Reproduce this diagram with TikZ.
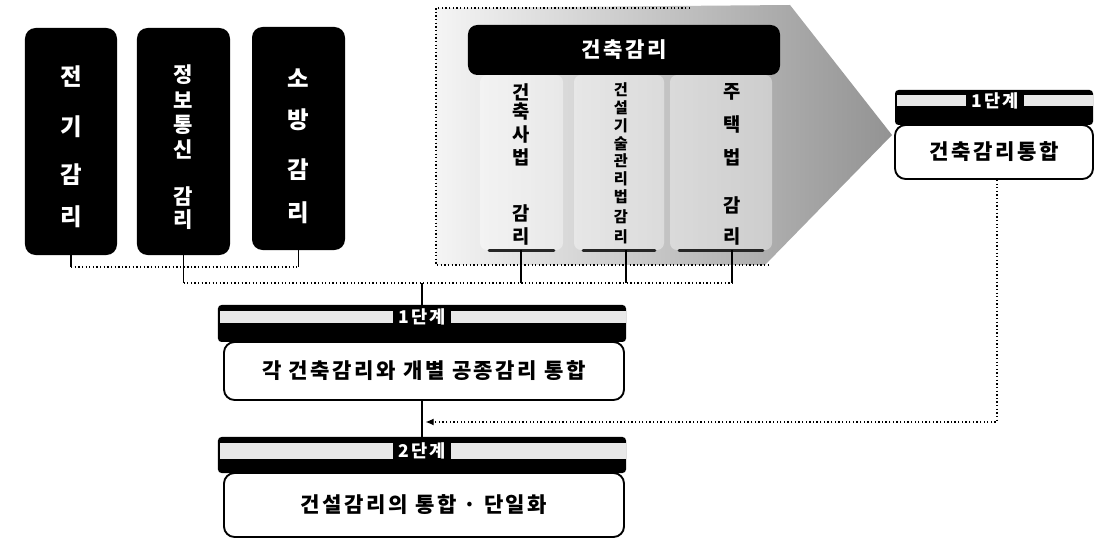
\documentclass[tikz,border=0pt]{standalone}
\usepackage{fontspec}
\newfontfamily\kr{Noto Sans CJK KR}
\newfontfamily\krs{Noto Sans CJK KR}[LetterSpace=12]
\usetikzlibrary{arrows.meta}
\tikzset{
  lbox/.style={fill=black, rounded corners=9pt, inner sep=0pt},
  lchar/.style={text=white, font=\kr\bfseries\fontsize{20}{20}\selectfont, inner sep=0pt},
  lchars/.style={text=white, font=\kr\bfseries\fontsize{18}{18}\selectfont, inner sep=0pt},
  cchar/.style={text=black, font=\kr\bfseries\fontsize{16}{16}\selectfont, inner sep=0pt},
  cchars/.style={text=black, font=\kr\bfseries\fontsize{13}{13}\selectfont, inner sep=0pt},
  colbox/.style={fill=white, fill opacity=0.4, rounded corners=6pt, inner sep=0pt},
  coledge/.style={gray!30!black, line width=2.4pt, line cap=round},
  barbg/.style={fill=black, rounded corners=3pt, inner sep=0pt},
  stripe/.style={fill=gray!18},
  lab/.style={fill=black, text=white, inner xsep=5pt, inner ysep=0pt, font=\krs\bfseries\fontsize{15}{15}\selectfont},
  body/.style={draw=black, line width=1.6pt, fill=white, rounded corners=9pt, inner sep=0pt,
               font=\krs\bfseries\fontsize{18}{20}\selectfont},
  stem/.style={line width=1pt},
  dotline/.style={line width=1.1pt, dotted},
}
\begin{document}
\begin{tikzpicture}[x=0.03cm,y=-0.03cm]
\fill[white] (0,0) rectangle (1106,539);
\useasboundingbox (0,0) rectangle (1106,539);

% left black boxes
\node[lbox, minimum width=2.76cm, minimum height=6.81cm] (b1) at (71,141.5) {};
\node[lbox, minimum width=2.79cm, minimum height=6.81cm] (b2) at (183.5,141.5) {};
\node[lbox, minimum width=2.79cm, minimum height=6.69cm] (b3) at (298.5,138.5) {};
\foreach \c/\y [count=\i] in {전/77,기/127,감/175,리/217}
  \node[lchar] (b1t\i) at (71,\y) {\c};
\foreach \c/\y [count=\i] in {정/75,보/100,통/125,신/149,감/197,리/220}
  \node[lchars] (b2t\i) at (183.5,\y) {\c};
\foreach \c/\y [count=\i] in {소/78,방/120,감/170,리/213}
  \node[lchar] (b3t\i) at (298.5,\y) {\c};

% big shaded arrow
\shade[left color=gray!8, right color=gray!85] (436,8) -- (790,5) -- (892,135) -- (765,265) -- (436,265) -- cycle;
\draw[dotline] (690,8) -- (436,8) -- (436,265) -- (770,265);

% columns
\node[colbox, minimum width=2.49cm, minimum height=5.25cm] (c1) at (521.5,162.5) {};
\node[colbox, minimum width=2.70cm, minimum height=5.25cm] (c2) at (619,162.5) {};
\node[colbox, minimum width=3.06cm, minimum height=5.25cm] (c3) at (721,162.5) {};
\draw[coledge] ([xshift=8pt]c1.south west) -- ([xshift=-8pt]c1.south east);
\draw[coledge] ([xshift=8pt]c2.south west) -- ([xshift=-8pt]c2.south east);
\draw[coledge] ([xshift=8pt]c3.south west) -- ([xshift=-8pt]c3.south east);
\foreach \c/\y [count=\i] in {건/92,축/112,사/134,법/157,감/213,리/236}
  \node[cchar] (c1t\i) at (521,\y) {\c};
\foreach \c/\y [count=\i] in {건/90,설/108,기/126,술/144,관/161,리/179,법/197,감/217,리/237}
  \node[cchars] (c2t\i) at (621,\y) {\c};
\foreach \c/\y [count=\i] in {주/92,택/124,법/157,감/205,리/236}
  \node[cchar] (c3t\i) at (732,\y) {\c};

% header 건축감리
\node[barbg, rounded corners=8pt, minimum width=9.36cm, minimum height=1.5cm,
      text=white, font=\krs\bfseries\fontsize{18}{18}\selectfont] (hd) at (624,50) {건축감리};

% right: 1단계 / 건축감리통합
\node[body, minimum width=5.94cm, minimum height=1.62cm] (r1) at (994,152) {건축감리통합};
\node[barbg, minimum width=5.94cm, minimum height=1.05cm] (rh) at (994,107.5) {};
\fill[stripe] (897,95) rectangle (1093,106);
\node[lab] (rl) at (995,100.5) {1단계};

% stage 1
\node[body, minimum width=12cm, minimum height=1.74cm] (s1) at (424,371) {각 건축감리와 개별 공종감리 통합};
\node[barbg, minimum width=12.24cm, minimum height=1.11cm] (h1) at (422,323.5) {};
\fill[stripe] (220,311) rectangle (626,323);
\node[lab] (l1) at (422,317) {1단계};

% stage 2
\node[body, minimum width=12cm, minimum height=1.92cm] (s2) at (424,505) {건설감리의 통합 · 단일화};
\node[barbg, minimum width=12.24cm, minimum height=1.08cm] (h2) at (422,455) {};
\fill[stripe] (220,443) rectangle (626,459);
\node[lab] (l2) at (422,451) {2단계};

% connectors
\coordinate (ja) at (0,267);
\coordinate (jb) at (0,283);
\coordinate (t1) at (521,250);
\coordinate (t2) at (626,250);
\coordinate (t3) at (732,250);
\draw[stem] (b1.south) -- (b1.south |- ja);
\draw[stem] (b3.south) -- (b3.south |- ja);
\draw[dotline] (b1.south |- ja) -- (b3.south |- ja);
\draw[stem] (b2.south) -- (b2.south |- jb);
\draw[stem] (t1) -- (t1 |- jb);
\draw[stem] (t2) -- (t2 |- jb);
\draw[stem] (t3) -- (t3 |- jb);
\draw[dotline] (b2.south |- jb) -- (t3 |- jb);
\draw[stem] (h1.north |- jb) -- (h1.north);
\draw[stem] (h1.north |- s1.south) -- (h1.north |- h2.north);
\coordinate (ra) at (997,422);
\draw[dotline, -{Latex[length=7pt,width=6pt]}] (r1.south -| ra) -- (ra) -- ([xshift=3pt]h1.north |- ra);
\end{tikzpicture}
\end{document}
